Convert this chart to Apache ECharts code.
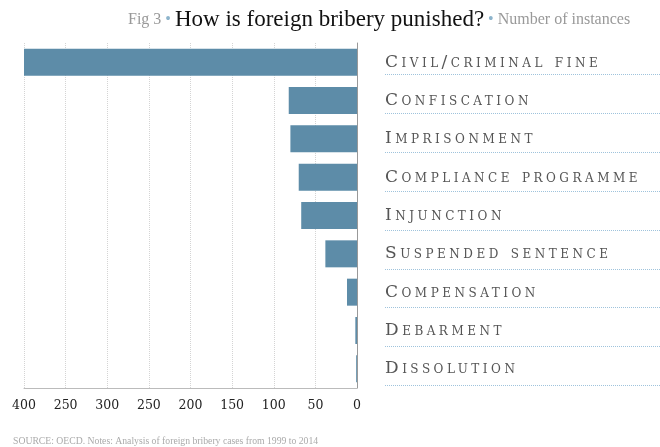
<!DOCTYPE html>
<html><head><meta charset="utf-8">
<script src="https://cdn.jsdelivr.net/npm/echarts@6/dist/echarts.min.js"></script>
<style>
html,body{margin:0;padding:0;background:#fff;}
#c{width:660px;height:447px;}
</style></head><body><div id="c"></div>
<script>
// Data
const categories = ['Civil/criminal fine', 'Confiscation', 'Imprisonment', 'Compliance programme', 'Injunction', 'Suspended sentence', 'Compensation', 'Debarment', 'Dissolution'];
const instances = [400, 82, 80, 70, 67, 38, 12, 2, 1];
// Tick labels as printed in the original, for values 0, 50, 100 ... 400
const tickLabels = ['0', '50', '100', '150', '200', '250', '300', '250', '400'];
const titleMain = 'How is foreign bribery punished?';
const titleFig = 'Fig 3';
const titleUnit = 'Number of instances';
const footer = 'SOURCE: OECD. Notes: Analysis of foreign bribery cases from 1999 to 2014';

// Small-caps category labels are drawn with wide letter spacing, as in the original;
// every other text keeps normal spacing.
(function () {
  const P = CanvasRenderingContext2D.prototype;
  if (!('letterSpacing' in P)) return;
  const orig = P.fillText;
  P.fillText = function (t, x, y, m) {
    const f = this.font;
    const want = f.indexOf('small-caps') >= 0 ? '3.5px' : '0px';
    if (this.letterSpacing !== want) {
      this.letterSpacing = want;
      this.font = f;
    }
    return m === undefined ? orig.call(this, t, x, y) : orig.call(this, t, x, y, m);
  };
})();

const chart = echarts.init(document.getElementById('c'), null, {renderer: 'canvas'});
const serif = '"Liberation Serif", "DejaVu Serif", serif';
chart.setOption({
  animation: false,
  backgroundColor: '#fff',
  title: [{
    text: '{g|' + titleFig + '} {b|•} {t|' + titleMain + '} {b|•} {g|' + titleUnit + '}',
    left: 123, top: 0,
    textStyle: {
      fontFamily: serif, fontSize: 16, color: '#999', fontWeight: 'normal', lineHeight: 30,
      rich: {
        g: {fontFamily: serif, fontSize: 16, color: '#999', lineHeight: 30},
        b: {fontFamily: serif, fontSize: 16, color: '#8db4cc', lineHeight: 30},
        t: {fontFamily: serif, fontSize: 23, color: '#111', lineHeight: 30}
      }
    }
  }, {
    text: footer,
    left: 8, top: 431,
    textStyle: {fontFamily: serif, fontSize: 9.7, color: '#aaa', fontWeight: 'normal'}
  }],
  grid: [
    {left: 24, right: 303, top: 43, height: 345},
    {left: 385, right: 0, top: 35.5, height: 350}
  ],
  xAxis: [{
    gridIndex: 0, type: 'value', min: 0, max: 400, interval: 50, inverse: true,
    axisLine: {show: true, lineStyle: {color: '#bbb', width: 1}},
    axisTick: {show: false},
    splitLine: {show: true, lineStyle: {color: '#d4d4d4', type: 'dotted', width: 1}},
    axisLabel: {
      margin: 11, color: '#222', fontFamily: '"DejaVu Serif", serif', fontSize: 12.5,
      formatter: v => tickLabels[Math.round(v / 50)]
    }
  }, {
    gridIndex: 1, type: 'value', show: false
  }],
  yAxis: [{
    gridIndex: 0, type: 'category', inverse: true, position: 'right', data: categories,
    axisLine: {show: true, lineStyle: {color: '#999', width: 1}},
    axisTick: {show: false},
    splitLine: {show: false},
    axisLabel: {
      margin: 28, color: '#555', fontFamily: '"DejaVu Serif", serif', fontSize: 17, fontStyle: 'small-caps',
      padding: [0, 0, 0, 0], lineHeight: 20, verticalAlign: 'middle'
    }
  }, {
    gridIndex: 1, type: 'category', inverse: true, data: categories,
    axisLine: {show: false}, axisTick: {show: false}, axisLabel: {show: false},
    splitLine: {show: true, showMinLine: false, showMaxLine: true,
      lineStyle: {color: '#9fc3dc', type: 'dotted', width: 1}}
  }],
  series: [{
    type: 'bar', xAxisIndex: 0, yAxisIndex: 0, data: instances, barWidth: 27,
    itemStyle: {color: '#5d8ca8'}, silent: true
  }]
});
</script></body></html>
